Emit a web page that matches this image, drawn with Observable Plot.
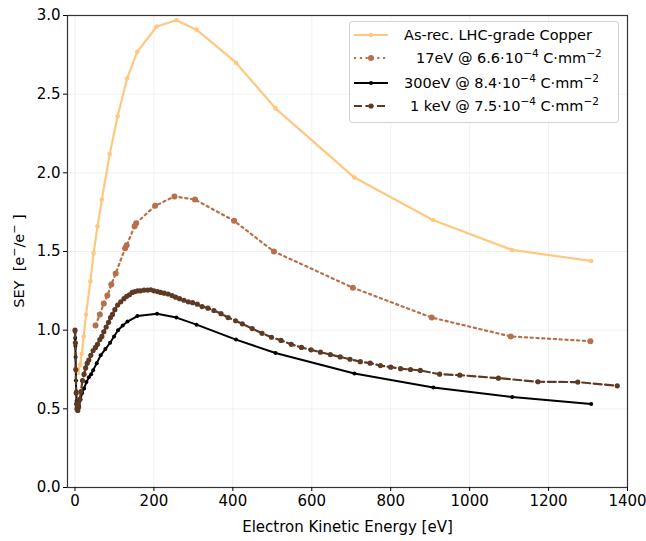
<!DOCTYPE html>
<html>
<head>
<meta charset="utf-8">
<script src="https://cdn.jsdelivr.net/npm/d3@7"></script>
<script src="https://cdn.jsdelivr.net/npm/@observablehq/plot@0.6"></script>
<style>
  html, body { margin: 0; padding: 0; background: #fff; }
  #wrap { position: relative; width: 646px; height: 541px; }
  #legend { position: absolute; left: 0; top: 0; pointer-events: none; }
  #legend text { white-space: pre; }
</style>
</head>
<body>
<div id="wrap"></div>
<script>
// ---- data ----
const seriesNames = [
  "As-rec. LHC-grade Copper",
  "17eV @ 6.6·10⁻⁴ C·mm⁻²",
  "300eV @ 8.4·10⁻⁴ C·mm⁻²",
  "1 keV @ 7.5·10⁻⁴ C·mm⁻²"
];

const copperE   = [8, 13, 17, 22, 28, 39, 47, 57, 68, 88, 108, 132, 158, 207, 257, 308, 408, 508, 708, 907, 1107, 1308];
const copperSEY = [0.73, 0.78, 0.85, 0.96, 1.10, 1.31, 1.49, 1.66, 1.83, 2.12, 2.36, 2.60, 2.77, 2.93, 2.97, 2.91, 2.70, 2.41, 1.97, 1.70, 1.51, 1.44];

const e17E   = [52, 63, 73, 82, 92, 103, 127, 131, 151, 155, 203, 252, 304, 403, 504, 704, 904, 1104, 1306];
const e17SEY = [1.03, 1.10, 1.17, 1.22, 1.29, 1.36, 1.52, 1.54, 1.66, 1.68, 1.79, 1.85, 1.83, 1.695, 1.50, 1.27, 1.08, 0.96, 0.93];

const e300E   = [0, 0.5, 1, 1.5, 2, 2.5, 3, 4, 5, 7, 10, 14, 18, 23, 29, 35, 41, 46, 55, 65, 77, 89, 99, 109, 121, 133, 158, 208, 257, 308, 408, 508, 708, 908, 1108, 1308];
const e300SEY = [0.99, 0.95, 0.90, 0.83, 0.75, 0.68, 0.61, 0.55, 0.51, 0.50, 0.52, 0.56, 0.60, 0.63, 0.67, 0.70, 0.72, 0.745, 0.79, 0.84, 0.88, 0.92, 0.96, 1.00, 1.03, 1.055, 1.09, 1.105, 1.08, 1.035, 0.94, 0.855, 0.725, 0.635, 0.575, 0.53];

const e1kE   = [0, 1, 2, 3, 4, 5, 7, 9, 12, 15, 19, 23, 27, 31, 35, 40, 46, 52, 57, 63, 68, 73, 79, 85, 90, 95, 101, 108, 116, 124, 131, 138, 145, 152, 159, 166, 175, 184, 192, 200, 209, 217, 226, 236, 246, 255, 265, 276, 287, 298, 310, 322, 337, 352, 370, 388, 407, 424, 449, 474, 498, 522, 548, 574, 598, 622, 647, 672, 697, 723, 748, 774, 800, 825, 850, 875, 924, 975, 1073, 1173, 1274, 1374];
const e1kSEY = [1.00, 0.92, 0.75, 0.60, 0.53, 0.50, 0.49, 0.51, 0.56, 0.61, 0.68, 0.72, 0.76, 0.79, 0.81, 0.84, 0.87, 0.89, 0.91, 0.94, 0.96, 0.99, 1.02, 1.05, 1.08, 1.10, 1.13, 1.16, 1.18, 1.20, 1.215, 1.225, 1.24, 1.245, 1.25, 1.25, 1.255, 1.255, 1.257, 1.25, 1.245, 1.24, 1.235, 1.23, 1.22, 1.21, 1.20, 1.19, 1.18, 1.175, 1.165, 1.15, 1.14, 1.125, 1.105, 1.08, 1.06, 1.04, 1.01, 0.98, 0.955, 0.935, 0.91, 0.89, 0.875, 0.86, 0.845, 0.83, 0.815, 0.80, 0.79, 0.775, 0.765, 0.755, 0.75, 0.744, 0.72, 0.714, 0.695, 0.672, 0.67, 0.646];

const xTicks = [0, 200, 400, 600, 800, 1000, 1200, 1400];
const yTicks = [0, 0.5, 1.0, 1.5, 2.0, 2.5, 3.0];

// ---- build tables ----
const toRows = (E, S) => E.map((e, i) => ({e, s: S[i]}));
const copper = toRows(copperE, copperSEY);
const d17 = toRows(e17E, e17SEY);
const d300 = toRows(e300E, e300SEY);
const d1k = toRows(e1kE, e1kSEY);

const C_COPPER = "#FFC77F";
const C_17 = "#B8704A";
const C_300 = "#000000";
const C_1K = "#5E3A24";

const W = 646, H = 541;
const chart = Plot.plot({
  width: W,
  height: H,
  marginLeft: 67,
  marginRight: 19,
  marginTop: 15,
  marginBottom: 54,
  style: {fontFamily: "DejaVu Sans", fontSize: "15px", color: "#000", background: "#fff"},
  x: {domain: [-19, 1400]},
  y: {domain: [0, 3]},
  marks: [
    Plot.gridX(xTicks, {stroke: "#b0b0b0", strokeOpacity: 0.18, strokeWidth: 1}),
    Plot.gridY(yTicks, {stroke: "#b0b0b0", strokeOpacity: 0.18, strokeWidth: 1}),
    Plot.line(copper, {x: "e", y: "s", stroke: C_COPPER, strokeWidth: 2.2}),
    Plot.dot(copper, {x: "e", y: "s", fill: C_COPPER, r: 2.3}),
    Plot.line(d17, {x: "e", y: "s", stroke: C_17, strokeWidth: 2.2, strokeDasharray: "2.2,3.6"}),
    Plot.dot(d17, {x: "e", y: "s", fill: C_17, r: 3}),
    Plot.line(d300, {x: "e", y: "s", stroke: C_300, strokeWidth: 2}),
    Plot.dot(d300, {x: "e", y: "s", fill: C_300, r: 2}),
    Plot.line(d1k, {x: "e", y: "s", stroke: C_1K, strokeWidth: 2.2, strokeDasharray: "8,3.5"}),
    Plot.dot(d1k, {x: "e", y: "s", fill: C_1K, r: 2.6}),
    Plot.frame({stroke: "#333", strokeWidth: 1.2}),
    Plot.axisX({ticks: xTicks, tickSize: 4, tickPadding: 4, tickFormat: d3.format("d"),
      label: "Electron Kinetic Energy [eV]", labelAnchor: "center", labelArrow: "none", labelOffset: 44, fontSize: 15}),
    Plot.axisY({ticks: yTicks, tickSize: 4, tickPadding: 3, tickFormat: d3.format(".1f"),
      label: null, fontSize: 15})
  ]
});

const wrap = document.getElementById("wrap");
wrap.appendChild(chart);

// ---- overlay: y label and legend ----
const svg = d3.select(wrap).append("svg")
  .attr("id", "legend").attr("width", W).attr("height", H)
  .style("font-family", "DejaVu Sans").style("font-size", "14.5px");

// y axis label with superscripts
const yl = svg.append("text")
  .attr("transform", "translate(24,261) rotate(-90)")
  .attr("text-anchor", "middle").attr("fill", "#000");
yl.append("tspan").text("SEY  [e");
yl.append("tspan").text("−").attr("dy", -6).style("font-size", "11px");
yl.append("tspan").text("/e").attr("dy", 6);
yl.append("tspan").text("−").attr("dy", -6).style("font-size", "11px");
yl.append("tspan").text(" ]").attr("dy", 6);

svg.append("rect").attr("x", 349.5).attr("y", 21.5).attr("width", 269).attr("height", 101)
  .attr("rx", 3).attr("fill", "rgba(255,255,255,0.85)").attr("stroke", "#d3d3d3").attr("stroke-width", 1);

const rows = [
  {y: 35, color: C_COPPER, dash: null, r: 2.3, tx: 404, parts: [["As-rec. LHC-grade Copper", 0]]},
  {y: 58, color: C_17, dash: "2.2,3.6", r: 3, tx: 416, parts: [["17eV @ 6.6·10", 0], ["−4", 1], [" C·mm", 0], ["−2", 1]]},
  {y: 83, color: C_300, dash: null, r: 2, tx: 404, parts: [["300eV @ 8.4·10", 0], ["−4", 1], [" C·mm", 0], ["−2", 1]]},
  {y: 106, color: C_1K, dash: "8,3.5", r: 2.6, tx: 410, parts: [["1 keV @ 7.5·10", 0], ["−4", 1], [" C·mm", 0], ["−2", 1]]}
];

rows.forEach(row => {
  const ln = svg.append("line").attr("x1", 354).attr("x2", 388).attr("y1", row.y).attr("y2", row.y)
    .attr("stroke", row.color).attr("stroke-width", 2.2);
  if (row.dash) ln.attr("stroke-dasharray", row.dash);
  svg.append("circle").attr("cx", 371).attr("cy", row.y).attr("r", row.r).attr("fill", row.color);
  const t = svg.append("text").attr("x", row.tx).attr("y", row.y + 5).attr("fill", "#000");
  let sup = 0;
  row.parts.forEach(([s, isSup]) => {
    const ts = t.append("tspan").text(s);
    if (isSup && !sup) { ts.attr("dy", -6).style("font-size", "10.5px"); sup = 1; }
    else if (!isSup && sup) { ts.attr("dy", 6); sup = 0; }
    else if (isSup && sup) { ts.style("font-size", "10.5px"); }
  });
});
</script>
</body>
</html>
